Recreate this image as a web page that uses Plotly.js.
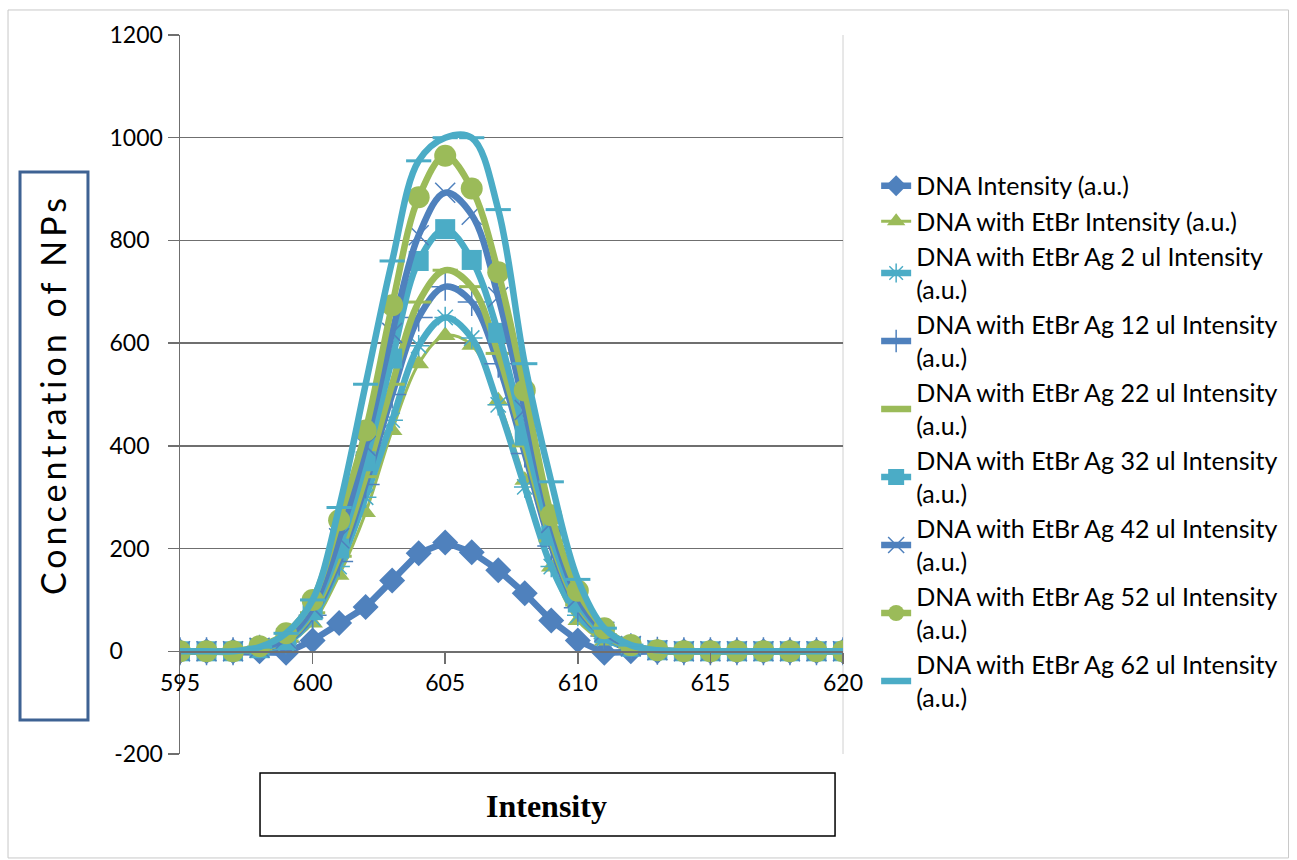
<!DOCTYPE html>
<html>
<head>
<meta charset="utf-8">
<script src="https://cdn.plot.ly/plotly-3.0.1.min.js"></script>
<style>
html,body{margin:0;padding:0;background:#fff;}
#chart{width:1297px;height:860px;}
#chart .ytitle{letter-spacing:4px;}
</style>
</head>
<body>
<div id="chart"></div>
<script>
// Wavelength positions (x values)
const wavelength = [595,596,597,598,599,600,601,602,603,604,605,606,607,608,609,610,611,612,613,614,615,616,617,618,619,620];

// Series values
const dnaIntensity   = [0,0,0,0,-3,21,55,86,138,191,212,193,158,113,60,21,-3,0,0,0,0,0,0,0,0,0];
const dnaEtBr        = [0,0,0,3,15,55,148,270,430,560,615,596,488,333,164,60,20,5,0,0,0,0,0,0,0,0];
const dnaEtBrAg2     = [0,0,0,4,15,65,165,300,450,595,650,610,480,320,165,70,25,6,1,0,0,0,0,0,0,0];
const dnaEtBrAg12    = [0,0,0,5,18,70,175,325,500,650,710,680,560,385,205,85,30,8,1,0,0,0,0,0,0,0];
const dnaEtBrAg22    = [0,0,0,5,20,75,185,340,520,680,742,710,580,400,215,90,32,8,1,0,0,0,0,0,0,0];
const dnaEtBrAg32    = [0,0,0,6,22,80,200,370,570,760,822,762,620,420,225,95,35,9,2,0,0,0,0,0,0,0];
const dnaEtBrAg42    = [0,0,0,7,25,85,220,400,620,810,893,850,690,470,250,105,38,10,2,0,0,0,0,0,0,0];
const dnaEtBrAg52    = [0,0,0,10,35,100,255,430,674,884,965,901,738,508,265,118,45,12,2,0,0,0,0,0,0,0];
const dnaEtBrAg62    = [0,0,0,8,35,100,280,520,760,955,1000,1000,860,560,330,140,45,12,2,0,0,0,0,0,0,0];

const seriesNames = [
  "DNA Intensity (a.u.)",
  "DNA with EtBr Intensity (a.u.)",
  "DNA with EtBr Ag 2 ul Intensity<br>(a.u.)",
  "DNA with EtBr Ag 12 ul Intensity<br>(a.u.)",
  "DNA with EtBr Ag 22 ul Intensity<br>(a.u.)",
  "DNA with EtBr Ag 32 ul Intensity<br>(a.u.)",
  "DNA with EtBr Ag 42 ul Intensity<br>(a.u.)",
  "DNA with EtBr Ag 52 ul Intensity<br>(a.u.)",
  "DNA with EtBr Ag 62 ul Intensity<br>(a.u.)"
];

const xTickValues = [595,600,605,610,615,620];
const yTickValues = [-200,0,200,400,600,800,1000,1200];
const yTickLabels = ["-200","0\u2007\u2007\u2007","200\u2007","400\u2007","600\u2007","800\u2007","1000","1200"];

const BLUE = '#4F81BD', GREEN = '#9BBB59', CYAN = '#4BACC6';
const LW = 6.5;

const styles = [
  {line:{color:BLUE,width:LW,shape:'linear'}, marker:{symbol:'diamond',size:20,color:BLUE}},
  {line:{color:GREEN,width:3,shape:'spline'}, marker:{symbol:'triangle-up',size:18,color:GREEN}},
  {line:{color:CYAN,width:LW,shape:'spline'}, marker:{symbol:'asterisk-open',size:18,color:CYAN,line:{color:CYAN,width:1.5}}},
  {line:{color:BLUE,width:LW,shape:'spline'}, marker:{symbol:'cross-thin-open',size:20,color:BLUE,line:{color:BLUE,width:1.5}}},
  {line:{color:GREEN,width:LW,shape:'spline'}, marker:{symbol:'line-ew-open',size:18,color:GREEN,line:{color:GREEN,width:3}}},
  {line:{color:CYAN,width:LW,shape:'spline'}, marker:{symbol:'square',size:20,color:CYAN}},
  {line:{color:BLUE,width:LW,shape:'spline'}, marker:{symbol:'x-thin-open',size:20,color:BLUE,line:{color:BLUE,width:1.5}}},
  {line:{color:GREEN,width:LW,shape:'spline'}, marker:{symbol:'circle',size:22,color:GREEN}},
  {line:{color:CYAN,width:LW,shape:'spline'}, marker:{symbol:'line-ew-open',size:18,color:CYAN,line:{color:CYAN,width:3}}}
];

const values = [dnaIntensity,dnaEtBr,dnaEtBrAg2,dnaEtBrAg12,dnaEtBrAg22,dnaEtBrAg32,dnaEtBrAg42,dnaEtBrAg52,dnaEtBrAg62];

const traces = values.map((v,i)=>({
  type:'scatter', mode:'lines+markers', x:wavelength, y:v, name:seriesNames[i],
  legendgroup:'g'+i,
  line:styles[i].line, marker:styles[i].marker
}));

const GRID = '#6f6f6f';
const FONT = 'Lato, "Open Sans", sans-serif';

const layout = {
  width:1297, height:860,
  margin:{l:180, r:454, t:35, b:106},
  paper_bgcolor:'#ffffff', plot_bgcolor:'#ffffff',
  font:{family:FONT, size:23, color:'#000'},
  showlegend:true,
  legend:{x:1.05, y:0.822, xanchor:'left', yanchor:'top', font:{family:FONT,size:25,color:'#000'}, bgcolor:'rgba(0,0,0,0)', tracegroupgap:0},
  xaxis:{
    range:[595,620], tickvals:xTickValues, ticktext:xTickValues.map(String),
    anchor:'free', position:0.142857,
    showline:true, linecolor:GRID, linewidth:1.5,
    ticks:'outside', ticklen:11, tickcolor:GRID, tickwidth:1.5,
    showgrid:false, zeroline:false,
    tickfont:{family:FONT,size:23,color:'#000'}
  },
  yaxis:{
    range:[-200,1200], tickvals:yTickValues, ticktext:yTickLabels,
    showline:true, linecolor:GRID, linewidth:1.5,
    ticks:'outside', ticklen:11, tickcolor:GRID, tickwidth:1.5,
    showgrid:true, gridcolor:GRID, gridwidth:1.5, zeroline:false,
    tickfont:{family:FONT,size:23,color:'#000'},
    title:{text:'Concentration of NPs', font:{family:FONT,size:34,color:'#000'}, standoff:32}
  },
  shapes:[
    {type:'rect', xref:'paper', yref:'paper', x0:-0.2594, x1:1.672, y0:-0.1446, y1:1.0348, line:{color:'#c8c8c8',width:1}, layer:'below'},
    {type:'line', xref:'paper', yref:'paper', x0:1, x1:1, y0:0, y1:1, line:{color:'#d0d0d0',width:1}, layer:'below'},
    {type:'rect', xref:'paper', yref:'paper', x0:-0.2413, x1:-0.1388, y0:0.0473, y1:0.8095, line:{color:'#3E6293',width:3}},
    {type:'rect', xref:'paper', yref:'paper', x0:0.1207, x1:0.988, y0:-0.0264, y1:-0.114, line:{color:'#000',width:1.5}}
  ],
  annotations:[
    {text:'<b>Intensity</b>', xref:'paper', yref:'paper', x:0.5535, y:-0.0723, showarrow:false, xanchor:'center', yanchor:'middle',
     font:{family:'"Liberation Serif", "Times New Roman", serif', size:32, color:'#000'}}
  ]
};

Plotly.newPlot('chart', traces, layout, {displayModeBar:false, staticPlot:true});
</script>
</body>
</html>
